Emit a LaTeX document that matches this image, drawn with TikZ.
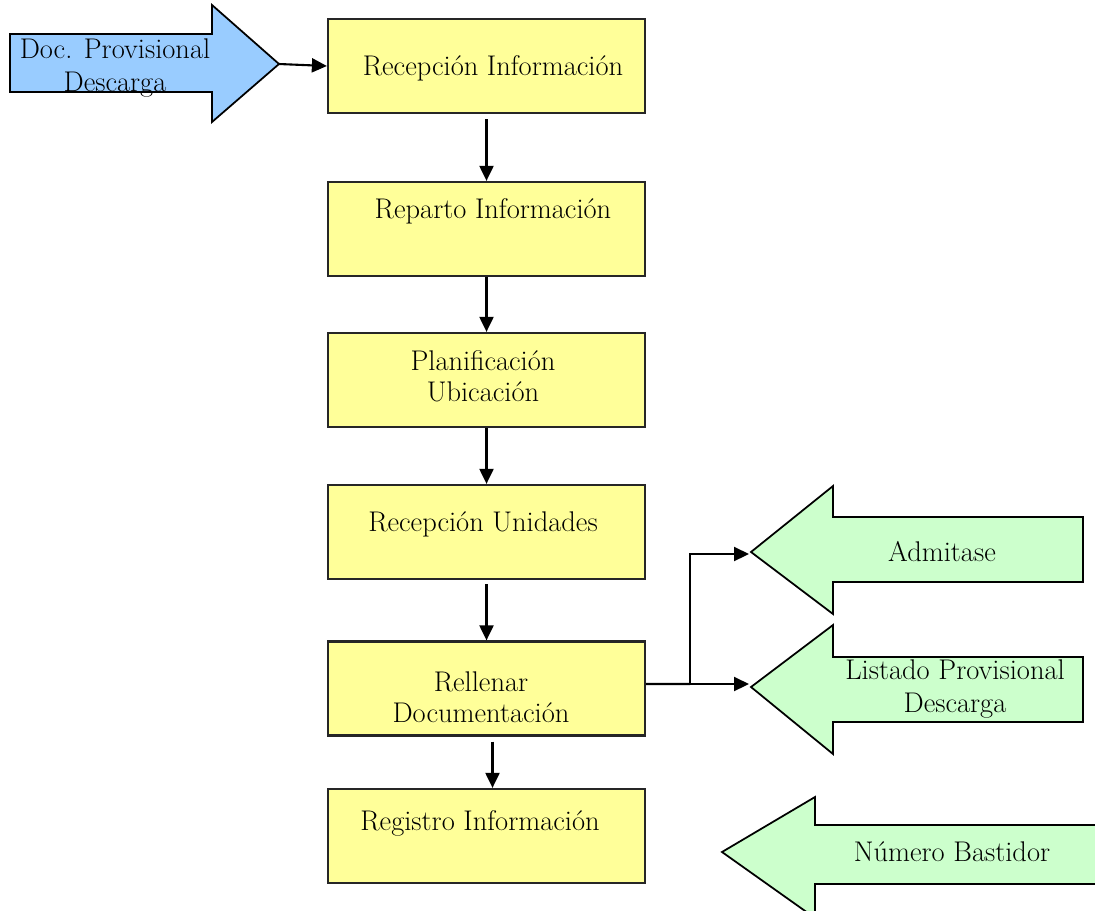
\documentclass[tikz,border=0pt]{standalone}
\usepackage{fontspec}
\setmainfont{Latin Modern Roman}
\usetikzlibrary{arrows.meta}
\definecolor{boxyellow}{HTML}{FFFF99}
\definecolor{docblue}{HTML}{99CCFF}
\definecolor{outgreen}{HTML}{CCFFCC}
\begin{document}
\begin{tikzpicture}[x=0.02cm, y=-0.02cm, box node/.style={draw=black!85, line width=1.3pt, fill=boxyellow, minimum width=6.34cm, minimum height=1.88cm, inner sep=0pt}, txt node/.style={font=\fontsize{16.2}{17.5}\selectfont, align=center, inner sep=0pt}, flow/.style={line width=1.2pt, -{Triangle[length=0.3cm, width=0.28cm]}}, big arrow/.style={draw=black, line width=1pt}]
\useasboundingbox (0,0) rectangle (1095,910);
% big arrows (input and outputs)
\draw[big arrow, fill=docblue] (10,34) -- (212,34) -- (212,5) -- (279,64) -- (212,122) -- (212,92) -- (10,92) -- cycle;
\draw[big arrow, fill=outgreen] (1083,517) -- (833,517) -- (833,486) -- (751,552) -- (833,614) -- (833,582) -- (1083,582) -- cycle;
\draw[big arrow, fill=outgreen] (1083,657) -- (833,657) -- (833,625) -- (751,687) -- (833,754) -- (833,722) -- (1083,722) -- cycle;
\draw[big arrow, fill=outgreen] (1110,825) -- (815,825) -- (815,797) -- (722,852) -- (815,918) -- (815,884) -- (1110,884) -- cycle;
\coordinate (doc tip) at (279,64);
\coordinate (adm tip) at (751,554);
\coordinate (lis tip) at (751,684);
\node[txt node, font=\fontsize{16.2}{18.5}\selectfont] (doc) at (115,68) {Doc. Provisional\\Descarga};
\node[txt node] (adm) at (942,552) {Admitase};
\node[txt node, font=\fontsize{16.2}{19}\selectfont] (lis) at (955,689) {Listado Provisional\\Descarga};
\node[txt node] (num) at (952,852) {Número Bastidor};
% process boxes
\node[box node] (rec) at (486.5,66) {};
\node[box node] (rep) at (486.5,229) {};
\node[box node] (pla) at (486.5,380) {};
\node[box node] (uni) at (486.5,532) {};
\node[box node] (rel) at (486.5,688.5) {};
\node[box node] (reg) at (486.5,836) {};
\node[txt node] (rec t) at (493,68) {Recepción Información};
\node[txt node] (rep t) at (493,211) {Reparto Información};
\node[txt node] (pla t) at (483,376) {Planificación\\Ubicación};
\node[txt node] (uni t) at (483,524) {Recepción Unidades};
\node[txt node] (rel t) at (481,697) {Rellenar\\Documentación};
\node[txt node] (reg t) at (480,823) {Registro Información};
% connectors
\draw[flow] (doc tip) -- (rec.west);
\draw[flow] ([yshift=-0.1cm]rec.south) -- (rep.north);
\draw[flow] (rep.south) -- (pla.north);
\draw[flow] (pla.south) -- (uni.north);
\draw[flow] ([yshift=-0.08cm]uni.south) -- (rel.north);
\draw[flow] ([xshift=0.12cm,yshift=-0.1cm]rel.south) -- ([xshift=0.12cm]reg.north);
\coordinate (split) at (690,684);
\draw[line width=1.2pt] ([yshift=0.09cm]rel.east) -- (split);
\draw[flow, shorten >=0.04cm] (split) |- (adm tip);
\draw[flow, shorten >=0.04cm] (split) -- (lis tip);
\end{tikzpicture}
\end{document}
